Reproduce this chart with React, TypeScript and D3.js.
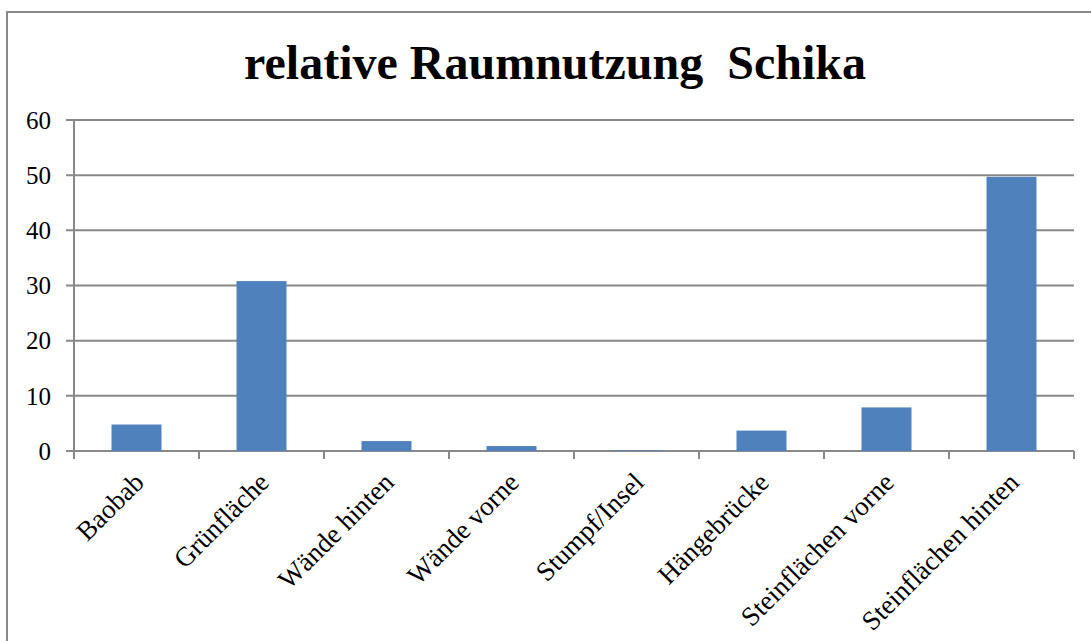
import React from 'react';
import * as d3 from 'd3';

// Daten
const categories = ['Baobab', 'Grünfläche', 'Wände hinten', 'Wände vorne', 'Stumpf/Insel', 'Hängebrücke', 'Steinflächen vorne', 'Steinflächen hinten'];
const values = [4.8, 30.8, 1.8, 0.9, 0.1, 3.7, 7.9, 49.7];
const yTickValues = [0, 10, 20, 30, 40, 50, 60];
const title = 'relative Raumnutzung  Schika';

const App = () => {
    const width = 1091;
    const height = 641;
    const margin = { top: 120, left: 74, right: 17, bottom: 190 };
    const innerWidth = width - margin.left - margin.right;
    const innerHeight = 451 - margin.top;
    const font = '"Liberation Serif", "Times New Roman", serif';

    const xScale = d3.scaleBand().domain(categories).range([0, innerWidth]).paddingInner(0.6).paddingOuter(0.3);
    const yScale = d3.scaleLinear().domain([0, 60]).range([innerHeight, 0]);
    const step = xScale.step();

    return (
        <svg width={width} height={height} style={{ position: 'fixed', left: 0, top: 0 }}>
            <rect x={7} y={12} width={1100} height={700} fill='white' stroke='#898989' strokeWidth={2} />
            <text x={555} y={79} textAnchor='middle' fontFamily={font} fontWeight='bold' fontSize={48} style={{ whiteSpace: 'pre' }}>{title}</text>
            <g transform={`translate(${margin.left},${margin.top})`}>
                {yTickValues.map(t => (
                    <g key={t} transform={`translate(0,${yScale(t)})`}>
                        <line x1={-8} x2={innerWidth} stroke='#888' strokeWidth={2} />
                        <text x={-23} dy='.35em' textAnchor='end' fontFamily={font} fontSize={25}>{t}</text>
                    </g>
                ))}
                <line y1={0} y2={innerHeight} stroke='#888' strokeWidth={2} />
                {categories.map((c, i) => (
                    <line key={c} x1={(i + 1) * step} x2={(i + 1) * step} y1={innerHeight} y2={innerHeight + 8} stroke='#888' strokeWidth={2} />
                ))}
                <line x1={0} x2={0} y1={innerHeight} y2={innerHeight + 8} stroke='#888' strokeWidth={2} />
                {categories.map((c, i) => (
                    <rect key={c} x={xScale(c)} y={yScale(values[i])} width={xScale.bandwidth()} height={innerHeight - yScale(values[i])} fill='#4F81BD' />
                ))}
                {categories.map(c => {
                    const cx = (xScale(c) || 0) + xScale.bandwidth() / 2 + 9;
                    return (
                        <text key={c} transform={`translate(${cx},${innerHeight + 33}) rotate(-45)`} textAnchor='end' fontFamily={font} fontSize={27}>{c}</text>
                    );
                })}
            </g>
        </svg>
    );
};

export default App;
